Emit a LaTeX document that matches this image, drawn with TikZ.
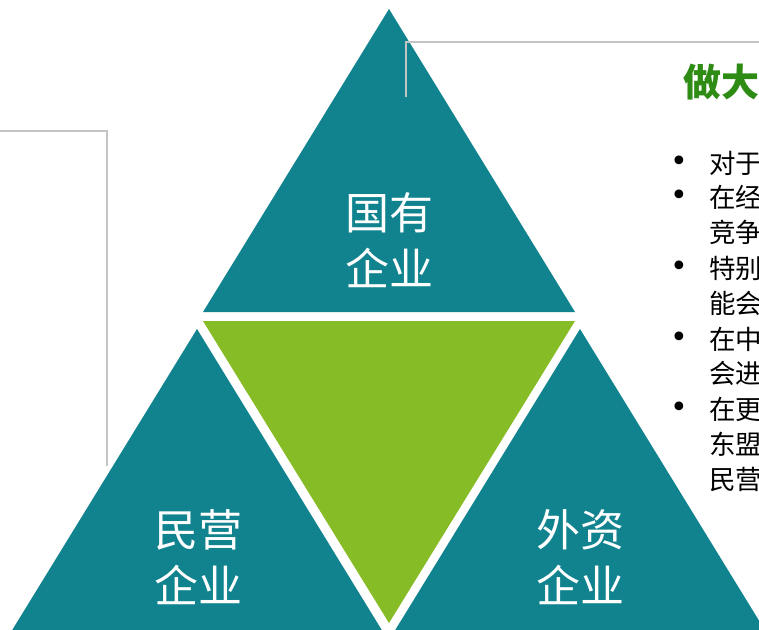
\documentclass[tikz,border=0pt]{standalone}
\usepackage{fontspec}
\setmainfont{Noto Sans CJK SC}
\newfontfamily\cjk{Noto Sans CJK SC}
\newfontfamily\bulfont{DejaVu Sans}
\definecolor{teal1}{HTML}{10838F}
\definecolor{lime1}{HTML}{86BC25}
\definecolor{title1}{HTML}{2E8B14}
\definecolor{gray1}{HTML}{C3C3C3}
\begin{document}
\begin{tikzpicture}[x=1pt,y=-1pt,
  tri/.style={fill=teal1,draw=none},
  gtri/.style={fill=lime1,draw=none},
  bracket/.style={draw=gray1,line width=1.5pt},
  lab/.style={text=white,font=\cjk\fontsize{44}{56}\selectfont,align=center,inner sep=0pt},
  ttl/.style={text=title1,font=\cjk\bfseries\fontsize{38}{44}\selectfont,anchor=west,inner sep=0pt},
  line/.style={text=black,font=\cjk\fontsize{26.5}{30}\selectfont,anchor=west,inner sep=0pt},
  bul/.style={text=black,font=\bulfont\fontsize{30}{34}\selectfont,inner sep=0pt}]
\useasboundingbox (0,0) rectangle (759,629);
\clip (0,0) rectangle (759,629);
% triangles
\fill[tri] (389,9) -- (203,312) -- (575,312) -- cycle;
\fill[gtri] (203,321) -- (575,321) -- (389,623) -- cycle;
\fill[tri] (197,329) -- (11,632) -- (383,632) -- cycle;
\fill[tri] (580,329) -- (394,632) -- (766,632) -- cycle;
% brackets
\draw[bracket] (406,97) -- (406,42) -- (770,42);
\draw[bracket] (-5,131) -- (107,131) -- (107,466);
% labels
\node[lab] (gy) at (389,240) {国有\\企业};
\node[lab] (my) at (198,557) {民营\\企业};
\node[lab] (wz) at (580,557) {外资\\企业};
% right text
\node[ttl] (t) at (683,82) {做大做强};
\node[bul] (b1) at (679,164) {•};
\node[bul] (b2) at (679,198) {•};
\node[bul] (b3) at (679,269) {•};
\node[bul] (b4) at (679,340) {•};
\node[bul] (b5) at (679,410) {•};
\node[line] (l1) at (709,163) {对于国有企业};
\node[line] (l2) at (709,197) {在经济领域};
\node[line] (l3) at (709,232) {竞争};
\node[line] (l4) at (709,268) {特别是};
\node[line] (l5) at (709,303) {能会};
\node[line] (l6) at (709,339) {在中国};
\node[line] (l7) at (709,373) {会进};
\node[line] (l8) at (709,409) {在更多};
\node[line] (l9) at (709,444) {东盟};
\node[line] (l10) at (709,479) {民营};
\end{tikzpicture}
\end{document}
